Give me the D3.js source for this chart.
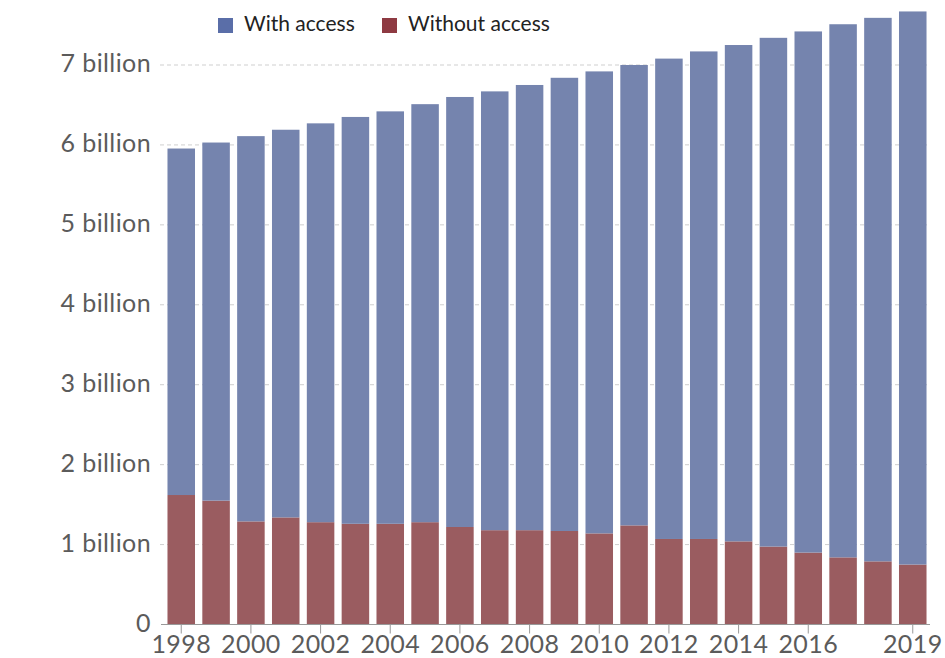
<!DOCTYPE html>
<html>
<head>
<meta charset="utf-8">
<script src="https://cdn.jsdelivr.net/npm/d3@7"></script>
<style>
  body { margin: 0; background: #fff; }
  svg { font-family: Lato, "Open Sans", sans-serif; }
</style>
</head>
<body>
<svg id="chart"></svg>
<script>
const years = d3.range(1998, 2020);
// total population and population without access, in billions
const totalPop = [5.955, 6.03, 6.11, 6.19, 6.27, 6.35, 6.42, 6.51, 6.6, 6.67, 6.75,
  6.84, 6.92, 7.0, 7.08, 7.17, 7.25, 7.34, 7.42, 7.51, 7.59, 7.67];
const withoutAccess = [1.62, 1.55, 1.29, 1.34, 1.28, 1.26, 1.26, 1.28, 1.22, 1.18, 1.18,
  1.17, 1.14, 1.24, 1.07, 1.07, 1.04, 0.975, 0.9, 0.84, 0.79, 0.75];
const yTicks = [0, 1, 2, 3, 4, 5, 6, 7];
const xTickYears = [1998, 2000, 2002, 2004, 2006, 2008, 2010, 2012, 2014, 2016, 2019];
const seriesNames = ["With access", "Without access"];

const width = 945;
const height = 658;
const margin = {top: 65, right: 15, bottom: 33.5, left: 164};

const data = years.map((yr, i) => ({
  year: yr,
  without: withoutAccess[i],
  with: totalPop[i] - withoutAccess[i]
}));

const svg = d3.select("#chart").attr("width", width).attr("height", height);

const x = d3
  .scaleBand()
  .domain(years)
  .range([margin.left, width - margin.right])
  .paddingInner(0.21)
  .paddingOuter(0.1);

const y = d3
  .scaleLinear()
  .domain([0, 7])
  .range([height - margin.bottom, margin.top]);

const colors = {
  with: "#7584ae",
  without: "#9a5c60"
};
const legendColors = ["#5a6ea8", "#8e3a42"];

// gridlines
svg
  .selectAll(".grid")
  .data(yTicks.filter((d) => d > 0))
  .enter()
  .append("line")
  .attr("x1", 160)
  .attr("x2", width - margin.right)
  .attr("y1", (d) => y(d))
  .attr("y2", (d) => y(d))
  .attr("stroke", "#cfcfcf")
  .attr("stroke-dasharray", "4,3")
  .attr("stroke-width", 1);

svg
  .selectAll(".y-label")
  .data(yTicks)
  .enter()
  .append("text")
  .attr("x", 151)
  .attr("y", (d) => y(d) + 1)
  .attr("text-anchor", "end")
  .attr("dominant-baseline", "middle")
  .attr("font-size", "25px")
  .attr("letter-spacing", "0.4px")
  .attr("fill", "#5b5b5b")
  .text((d) => (d === 0 ? "0" : d + " billion"));

const stack = d3.stack().keys(["without", "with"])(data);

svg
  .selectAll(".series")
  .data(stack)
  .enter()
  .append("g")
  .attr("fill", (s) => colors[s.key])
  .selectAll("rect")
  .data((s) => s)
  .enter()
  .append("rect")
  .attr("x", (d) => x(d.data.year))
  .attr("width", x.bandwidth())
  .attr("y", (d) => y(d[1]))
  .attr("height", (d) => y(d[0]) - y(d[1]));

// x axis
svg
  .append("line")
  .attr("x1", 161)
  .attr("x2", width - margin.right)
  .attr("y1", y(0))
  .attr("y2", y(0))
  .attr("stroke", "#999")
  .attr("stroke-width", 1);

svg
  .selectAll(".x-tick")
  .data(xTickYears)
  .enter()
  .append("line")
  .attr("x1", (d) => x(d) + x.bandwidth() / 2)
  .attr("x2", (d) => x(d) + x.bandwidth() / 2)
  .attr("y1", y(0))
  .attr("y2", y(0) + 9)
  .attr("stroke", "#999");

svg
  .selectAll(".x-label")
  .data(xTickYears)
  .enter()
  .append("text")
  .attr("x", (d) => x(d) + x.bandwidth() / 2)
  .attr("y", y(0) + 22)
  .attr("text-anchor", "middle")
  .attr("dominant-baseline", "middle")
  .attr("font-size", "25px")
  .attr("letter-spacing", "0.4px")
  .attr("fill", "#5b5b5b")
  .text((d) => d);

// Legend
const legendX = [218, 382];
seriesNames.forEach((name, i) => {
  svg
    .append("rect")
    .attr("x", legendX[i])
    .attr("y", 18)
    .attr("width", 15)
    .attr("height", 15)
    .attr("fill", legendColors[i]);
  svg
    .append("text")
    .attr("x", legendX[i] + 26)
    .attr("y", 26)
    .attr("dominant-baseline", "middle")
    .attr("font-size", "21px")
    .attr("fill", "#222")
    .text(name);
});
</script>
</body>
</html>
